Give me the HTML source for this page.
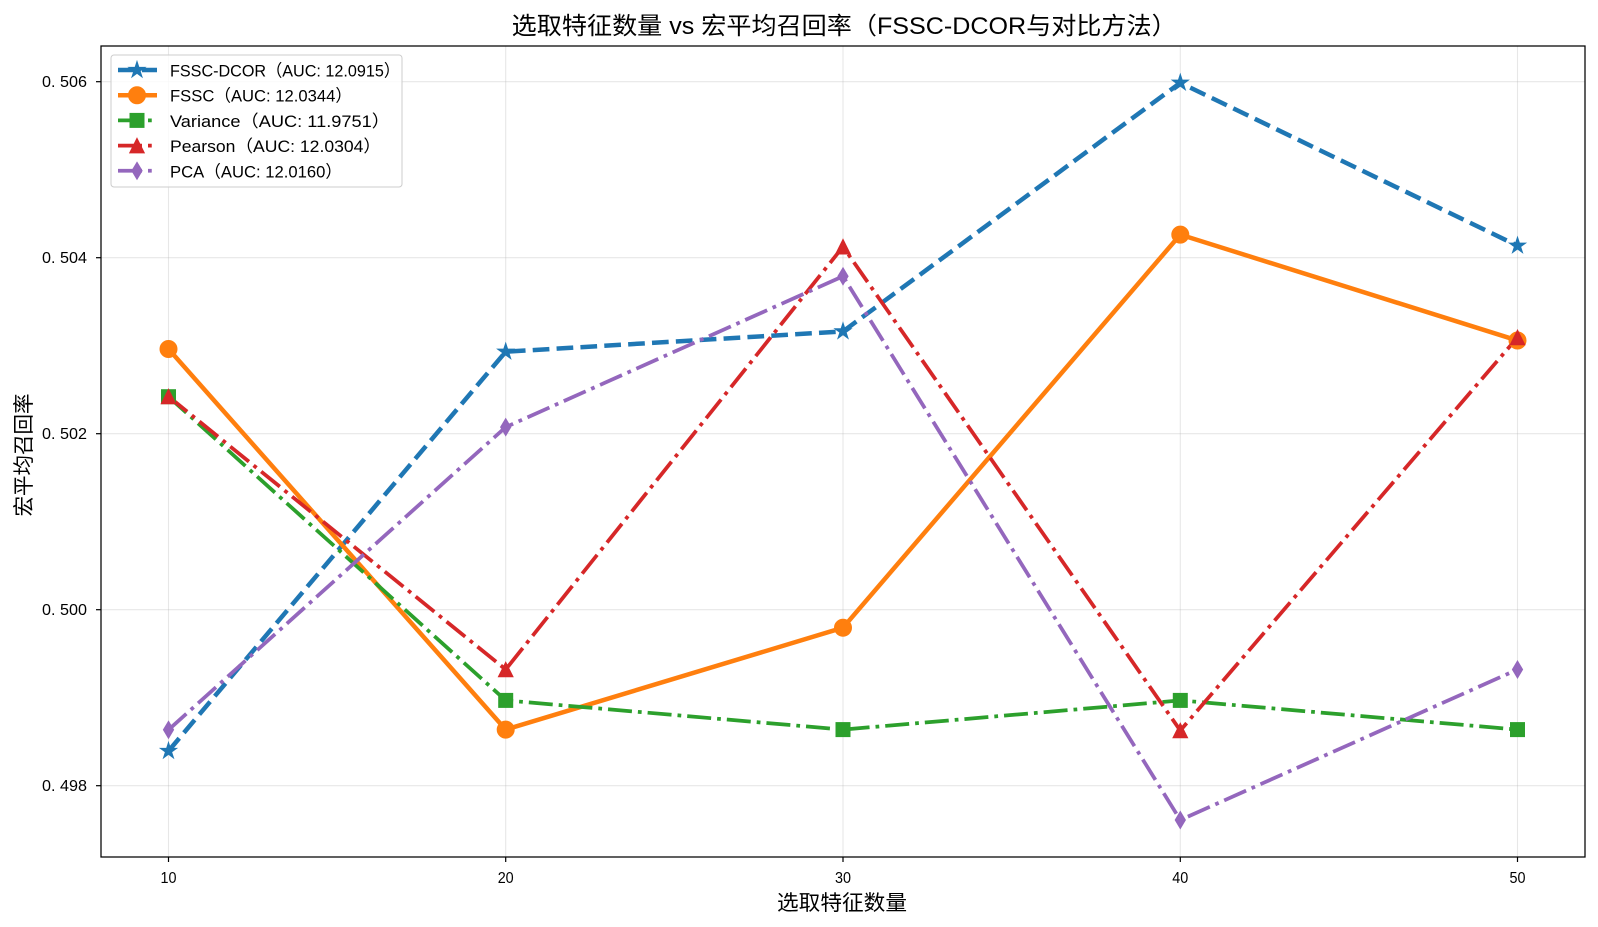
<!DOCTYPE html>
<html>
<head>
<meta charset="utf-8">
<style>
  html, body { margin:0; padding:0; background:#ffffff; }
  svg { display:block; }
  text { font-family: "Liberation Sans", "Noto Sans CJK SC", sans-serif; fill:#000; }
</style>
</head>
<body>
<svg width="1598" height="927" viewBox="0 0 1598 927" xmlns="http://www.w3.org/2000/svg">
  <rect x="0" y="0" width="1598" height="927" fill="#ffffff"/>

  <!-- grid -->
  <g stroke="#b0b0b0" stroke-opacity="0.3" stroke-width="1.1">
    <line x1="168.5" y1="46" x2="168.5" y2="857"/>
    <line x1="505.7" y1="46" x2="505.7" y2="857"/>
    <line x1="843" y1="46" x2="843" y2="857"/>
    <line x1="1180.3" y1="46" x2="1180.3" y2="857"/>
    <line x1="1517.5" y1="46" x2="1517.5" y2="857"/>
    <line x1="101" y1="785.7" x2="1585" y2="785.7"/>
    <line x1="101" y1="609.7" x2="1585" y2="609.7"/>
    <line x1="101" y1="433.7" x2="1585" y2="433.7"/>
    <line x1="101" y1="257.7" x2="1585" y2="257.7"/>
    <line x1="101" y1="81.7" x2="1585" y2="81.7"/>
  </g>

  <!-- series lines -->
  <g fill="none" stroke-linejoin="round">
    <polyline stroke="#1f77b4" stroke-width="4.5" stroke-dasharray="16.7 7.2"
      points="168.5,751 505.7,351.7 843,331.4 1180.3,82.8 1517.5,245.7"/>
    <polyline stroke="#ff7f0e" stroke-width="4.5" stroke-linecap="square"
      points="168.5,349 505.7,729.6 843,627.7 1180.3,234.6 1517.5,340.5"/>
    <polyline stroke="#2ca02c" stroke-width="3.75" stroke-dasharray="24 6 3.75 6"
      points="168.5,396.7 505.7,700.4 843,729.6 1180.3,700.4 1517.5,729.6"/>
    <polyline stroke="#d62728" stroke-width="3.75" stroke-dasharray="24 6 3.75 6"
      points="168.5,396.5 505.7,669.5 843,246.7 1180.3,730.5 1517.5,337.4"/>
    <polyline stroke="#9467bd" stroke-width="3.75" stroke-dasharray="24 6 3.75 6"
      points="168.5,729.8 505.7,427.1 843,276.3 1180.3,820 1517.5,669.5"/>
  </g>

  <!-- markers -->
  <g fill="#1f77b4" stroke="#1f77b4" stroke-width="1">
    <path transform="translate(168.5,751)" d="M0,-8.5 L1.91,-2.63 L8.08,-2.63 L3.09,1 L5,6.88 L0,3.25 L-5,6.88 L-3.09,1 L-8.08,-2.63 L-1.91,-2.63 Z"/>
    <path transform="translate(505.7,351.7)" d="M0,-8.5 L1.91,-2.63 L8.08,-2.63 L3.09,1 L5,6.88 L0,3.25 L-5,6.88 L-3.09,1 L-8.08,-2.63 L-1.91,-2.63 Z"/>
    <path transform="translate(843,331.4)" d="M0,-8.5 L1.91,-2.63 L8.08,-2.63 L3.09,1 L5,6.88 L0,3.25 L-5,6.88 L-3.09,1 L-8.08,-2.63 L-1.91,-2.63 Z"/>
    <path transform="translate(1180.3,82.8)" d="M0,-8.5 L1.91,-2.63 L8.08,-2.63 L3.09,1 L5,6.88 L0,3.25 L-5,6.88 L-3.09,1 L-8.08,-2.63 L-1.91,-2.63 Z"/>
    <path transform="translate(1517.5,245.7)" d="M0,-8.5 L1.91,-2.63 L8.08,-2.63 L3.09,1 L5,6.88 L0,3.25 L-5,6.88 L-3.09,1 L-8.08,-2.63 L-1.91,-2.63 Z"/>
  </g>
  <g fill="#ff7f0e" stroke="#ff7f0e" stroke-width="1">
    <circle cx="168.5" cy="349" r="8.5"/>
    <circle cx="505.7" cy="729.6" r="8.5"/>
    <circle cx="843" cy="627.7" r="8.5"/>
    <circle cx="1180.3" cy="234.6" r="8.5"/>
    <circle cx="1517.5" cy="340.5" r="8.5"/>
  </g>
  <g fill="#2ca02c" stroke="#2ca02c" stroke-width="1">
    <rect x="161.5" y="389.7" width="14" height="14"/>
    <rect x="498.7" y="693.4" width="14" height="14"/>
    <rect x="836" y="722.6" width="14" height="14"/>
    <rect x="1173.3" y="693.4" width="14" height="14"/>
    <rect x="1510.5" y="722.6" width="14" height="14"/>
  </g>
  <g fill="#d62728" stroke="#d62728" stroke-width="1">
    <path transform="translate(168.5,396.5)" d="M0,-7.3 L7.3,7.3 L-7.3,7.3 Z"/>
    <path transform="translate(505.7,669.5)" d="M0,-7.3 L7.3,7.3 L-7.3,7.3 Z"/>
    <path transform="translate(843,246.7)" d="M0,-7.3 L7.3,7.3 L-7.3,7.3 Z"/>
    <path transform="translate(1180.3,730.5)" d="M0,-7.3 L7.3,7.3 L-7.3,7.3 Z"/>
    <path transform="translate(1517.5,337.4)" d="M0,-7.3 L7.3,7.3 L-7.3,7.3 Z"/>
  </g>
  <g fill="#9467bd" stroke="#9467bd" stroke-width="1">
    <path transform="translate(168.5,729.8)" d="M0,-8.5 L5.1,0 L0,8.5 L-5.1,0 Z"/>
    <path transform="translate(505.7,427.1)" d="M0,-8.5 L5.1,0 L0,8.5 L-5.1,0 Z"/>
    <path transform="translate(843,276.3)" d="M0,-8.5 L5.1,0 L0,8.5 L-5.1,0 Z"/>
    <path transform="translate(1180.3,820)" d="M0,-8.5 L5.1,0 L0,8.5 L-5.1,0 Z"/>
    <path transform="translate(1517.5,669.5)" d="M0,-8.5 L5.1,0 L0,8.5 L-5.1,0 Z"/>
  </g>

  <!-- axes spines -->
  <rect x="101" y="46" width="1484" height="811" fill="none" stroke="#000" stroke-width="1.25"/>

  <!-- ticks -->
  <g stroke="#000" stroke-width="1.2">
    <line x1="168.5" y1="857" x2="168.5" y2="862"/>
    <line x1="505.7" y1="857" x2="505.7" y2="862"/>
    <line x1="843" y1="857" x2="843" y2="862"/>
    <line x1="1180.3" y1="857" x2="1180.3" y2="862"/>
    <line x1="1517.5" y1="857" x2="1517.5" y2="862"/>
    <line x1="96" y1="785.7" x2="101" y2="785.7"/>
    <line x1="96" y1="609.7" x2="101" y2="609.7"/>
    <line x1="96" y1="433.7" x2="101" y2="433.7"/>
    <line x1="96" y1="257.7" x2="101" y2="257.7"/>
    <line x1="96" y1="81.7" x2="101" y2="81.7"/>
  </g>

  <!-- tick labels -->
  <g font-size="15.5">
    <text x="168.5" y="883" text-anchor="middle" textLength="16" lengthAdjust="spacingAndGlyphs">10</text>
    <text x="505.7" y="883" text-anchor="middle" textLength="16" lengthAdjust="spacingAndGlyphs">20</text>
    <text x="843" y="883" text-anchor="middle" textLength="16" lengthAdjust="spacingAndGlyphs">30</text>
    <text x="1180.3" y="883" text-anchor="middle" textLength="16" lengthAdjust="spacingAndGlyphs">40</text>
    <text x="1517.5" y="883" text-anchor="middle" textLength="16" lengthAdjust="spacingAndGlyphs">50</text>
    <text x="42" y="791.2" textLength="45" lengthAdjust="spacingAndGlyphs">0. 498</text>
    <text x="42" y="615.2" textLength="45" lengthAdjust="spacingAndGlyphs">0. 500</text>
    <text x="42" y="439.2" textLength="45" lengthAdjust="spacingAndGlyphs">0. 502</text>
    <text x="42" y="263.2" textLength="45" lengthAdjust="spacingAndGlyphs">0. 504</text>
    <text x="42" y="87.2" textLength="45" lengthAdjust="spacingAndGlyphs">0. 506</text>
  </g>

  <!-- axis labels -->
  <text x="842" y="910" font-size="21" text-anchor="middle" textLength="130" lengthAdjust="spacingAndGlyphs" style="font-family:'Noto Sans CJK SC',sans-serif">选取特征数量</text>
  <text transform="translate(31,455) rotate(-90)" x="0" y="0" font-size="21" text-anchor="middle" textLength="123" lengthAdjust="spacingAndGlyphs" style="font-family:'Noto Sans CJK SC',sans-serif">宏平均召回率</text>

  <!-- title -->
  <text x="511.7" y="34" font-size="24" textLength="665" lengthAdjust="spacingAndGlyphs">选取特征数量 vs 宏平均召回率（FSSC-DCOR与对比方法）</text>

  <!-- legend -->
  <rect x="111" y="55" width="291" height="132" rx="3" ry="3" fill="#ffffff" fill-opacity="0.8" stroke="#cccccc" stroke-width="1"/>
  <g fill="none" stroke-linejoin="round">
    <line x1="118" y1="70" x2="157" y2="70" stroke="#1f77b4" stroke-width="4.5" stroke-dasharray="16.7 7.2"/>
    <line x1="118" y1="95.2" x2="157" y2="95.2" stroke="#ff7f0e" stroke-width="4.5"/>
    <line x1="118" y1="120.4" x2="157" y2="120.4" stroke="#2ca02c" stroke-width="3.75" stroke-dasharray="24 6 3.75 6"/>
    <line x1="118" y1="145.6" x2="157" y2="145.6" stroke="#d62728" stroke-width="3.75" stroke-dasharray="24 6 3.75 6"/>
    <line x1="118" y1="170.8" x2="157" y2="170.8" stroke="#9467bd" stroke-width="3.75" stroke-dasharray="24 6 3.75 6"/>
  </g>
  <path transform="translate(137,70)" fill="#1f77b4" stroke="#1f77b4" stroke-width="1" d="M0,-8.5 L1.91,-2.63 L8.08,-2.63 L3.09,1 L5,6.88 L0,3.25 L-5,6.88 L-3.09,1 L-8.08,-2.63 L-1.91,-2.63 Z"/>
  <circle cx="137" cy="95.2" r="8.5" fill="#ff7f0e" stroke="#ff7f0e" stroke-width="1"/>
  <rect x="130" y="113.4" width="14" height="14" fill="#2ca02c" stroke="#2ca02c" stroke-width="1"/>
  <path transform="translate(137,145.6)" fill="#d62728" stroke="#d62728" stroke-width="1" d="M0,-7.3 L7.3,7.3 L-7.3,7.3 Z"/>
  <path transform="translate(137,170.8)" fill="#9467bd" stroke="#9467bd" stroke-width="1" d="M0,-8.5 L5.1,0 L0,8.5 L-5.1,0 Z"/>
  <g font-size="17">
    <text x="170" y="76.5" textLength="230" lengthAdjust="spacingAndGlyphs">FSSC-DCOR（AUC: 12.0915）</text>
    <text x="170" y="101.7" textLength="182" lengthAdjust="spacingAndGlyphs">FSSC（AUC: 12.0344）</text>
    <text x="170" y="126.9" textLength="220" lengthAdjust="spacingAndGlyphs">Variance（AUC: 11.9751）</text>
    <text x="170" y="152.1" textLength="211" lengthAdjust="spacingAndGlyphs">Pearson（AUC: 12.0304）</text>
    <text x="170" y="177.3" textLength="172" lengthAdjust="spacingAndGlyphs">PCA（AUC: 12.0160）</text>
  </g>
</svg>
</body>
</html>
